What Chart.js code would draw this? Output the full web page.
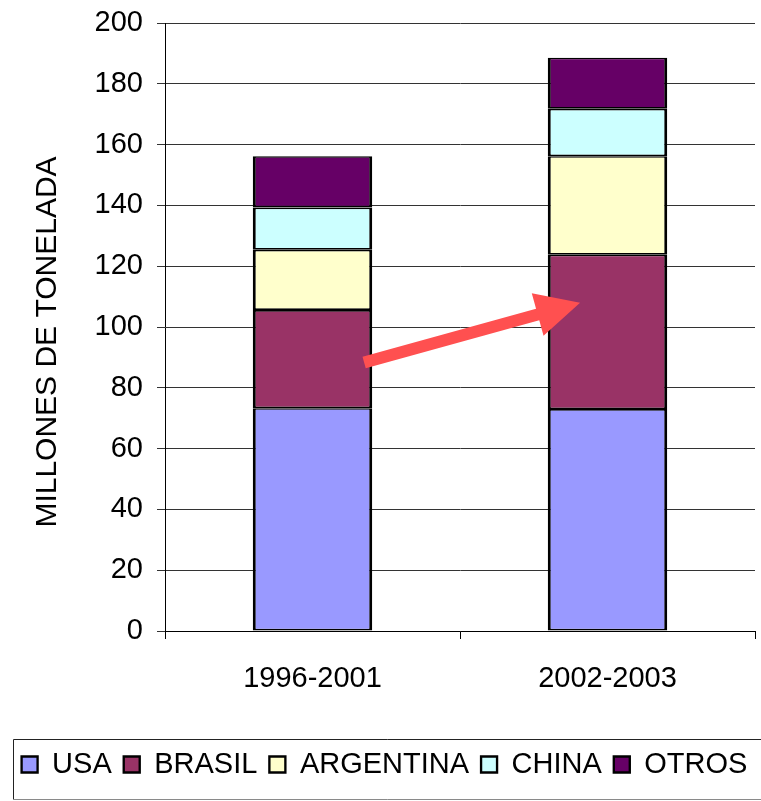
<!DOCTYPE html>
<html><head><meta charset="utf-8">
<script src="https://cdn.jsdelivr.net/npm/chart.js@4/dist/chart.umd.min.js"></script>
<style>html,body{margin:0;padding:0;background:#fff;overflow:hidden}#wrap{width:761px;height:801px}</style>
</head><body><div id="wrap"><canvas id="c" width="761" height="801"></canvas></div>
<script>
const categories = ['1996-2001', '2002-2003'];
const seriesNames = ['USA', 'BRASIL', 'ARGENTINA', 'CHINA', 'OTROS'];
const usa = [73.3, 73.0];
const brasil = [32.3, 50.8];
const argentina = [19.8, 32.4];
const china = [13.9, 15.6];
const otros = [16.9, 16.8];
const yTickValues = [0, 20, 40, 60, 80, 100, 120, 140, 160, 180, 200];
const yTitle = 'MILLONES DE TONELADA';
// arrow annotation in data space: [category position, value]
const arrowFrom = [0.175, 88.3];
const arrowTo = [0.907, 108.0];

const FONT = 'Liberation Sans, Arial, sans-serif';
const colors = ['#9999FF', '#993366', '#FFFFCC', '#CCFFFF', '#660066'];
const seriesValues = [usa, brasil, argentina, china, otros];

const datasets = seriesNames.map((n, i) => ({
  label: n,
  data: seriesValues[i],
  backgroundColor: colors[i],
  borderColor: '#000',
  borderWidth: {left: 3, right: 3, top: 1.7, bottom: 1.7},
  borderSkipped: false,
  categoryPercentage: 1,
  barPercentage: 0.405
}));

const arrowPlugin = {
  id: 'arrow',
  afterDatasetsDraw(chart) {
    const xs = chart.scales.x, ys = chart.scales.y, ctx = chart.ctx;
    const x1 = xs.getPixelForValue(arrowFrom[0]), y1 = ys.getPixelForValue(arrowFrom[1]);
    const x2 = xs.getPixelForValue(arrowTo[0]), y2 = ys.getPixelForValue(arrowTo[1]);
    const ang = Math.atan2(y2 - y1, x2 - x1);
    const len = Math.hypot(x2 - x1, y2 - y1);
    const hl = 44, hw = 22, sw = 6;
    ctx.save();
    ctx.translate(x1, y1);
    ctx.rotate(ang);
    ctx.beginPath();
    ctx.moveTo(0, -sw);
    ctx.lineTo(len - hl, -sw);
    ctx.lineTo(len - hl, -hw);
    ctx.lineTo(len, 0);
    ctx.lineTo(len - hl, hw);
    ctx.lineTo(len - hl, sw);
    ctx.lineTo(0, sw);
    ctx.closePath();
    ctx.fillStyle = '#FF5050';
    ctx.fill();
    ctx.restore();
  }
};

const framePlugin = {
  id: 'legendFrame',
  afterLayout(chart) {
    // nudge the centred legend row slightly right, as in the reference
    chart.legend.left += 7;
    chart.legend.right += 7;
  },
  afterDraw(chart) {
    const lg = chart.legend, ctx = chart.ctx;
    const top = Math.round(lg.top) + 1.5;
    const bottom = chart.height - 1.5;
    ctx.save();
    ctx.lineWidth = 1;
    ctx.strokeStyle = '#222';
    ctx.beginPath();
    ctx.moveTo(chart.width + 2, top);
    ctx.lineTo(13.5, top);
    ctx.lineTo(13.5, bottom);
    ctx.stroke();
    ctx.strokeStyle = '#8a8a8a';
    ctx.beginPath();
    ctx.moveTo(13.5, bottom);
    ctx.lineTo(chart.width + 2, bottom);
    ctx.stroke();
    ctx.restore();
  }
};

new Chart(document.getElementById('c'), {
  type: 'bar',
  data: {labels: categories, datasets},
  options: {
    responsive: false,
    animation: false,
    devicePixelRatio: 1,
    layout: {padding: {left: 0, right: 6, top: 23, bottom: 12}},
    plugins: {
      tooltip: {enabled: false},
      legend: {
        position: 'bottom',
        labels: {
          font: {family: FONT, size: 29},
          color: '#000',
          boxWidth: 16,
          boxHeight: 16,
          padding: 12
        }
      }
    },
    scales: {
      x: {
        stacked: true,
        grid: {display: true, drawOnChartArea: false, drawTicks: true, tickLength: 8, color: '#000', offset: true},
        border: {color: '#000', width: 1},
        ticks: {font: {family: FONT, size: 29}, color: '#000', padding: 23, maxRotation: 0},
        afterFit(s) { s.height = 107; }
      },
      y: {
        stacked: true,
        min: 0,
        max: 200,
        afterBuildTicks(s) { s.ticks = yTickValues.map(v => ({value: v})); },
        grid: {color: '#333', lineWidth: 1, tickLength: 8},
        border: {color: '#000', width: 1},
        ticks: {font: {family: FONT, size: 29}, color: '#000', padding: 14},
        title: {display: true, text: yTitle + '\u2003', font: {family: FONT, size: 30}, color: '#000', padding: {top: 30, bottom: 0}},
        afterFit(s) { s.width = 165; s.paddingTop = 17; s.paddingBottom = 0; }
      }
    }
  },
  plugins: [arrowPlugin, framePlugin]
});
</script>
</body></html>
